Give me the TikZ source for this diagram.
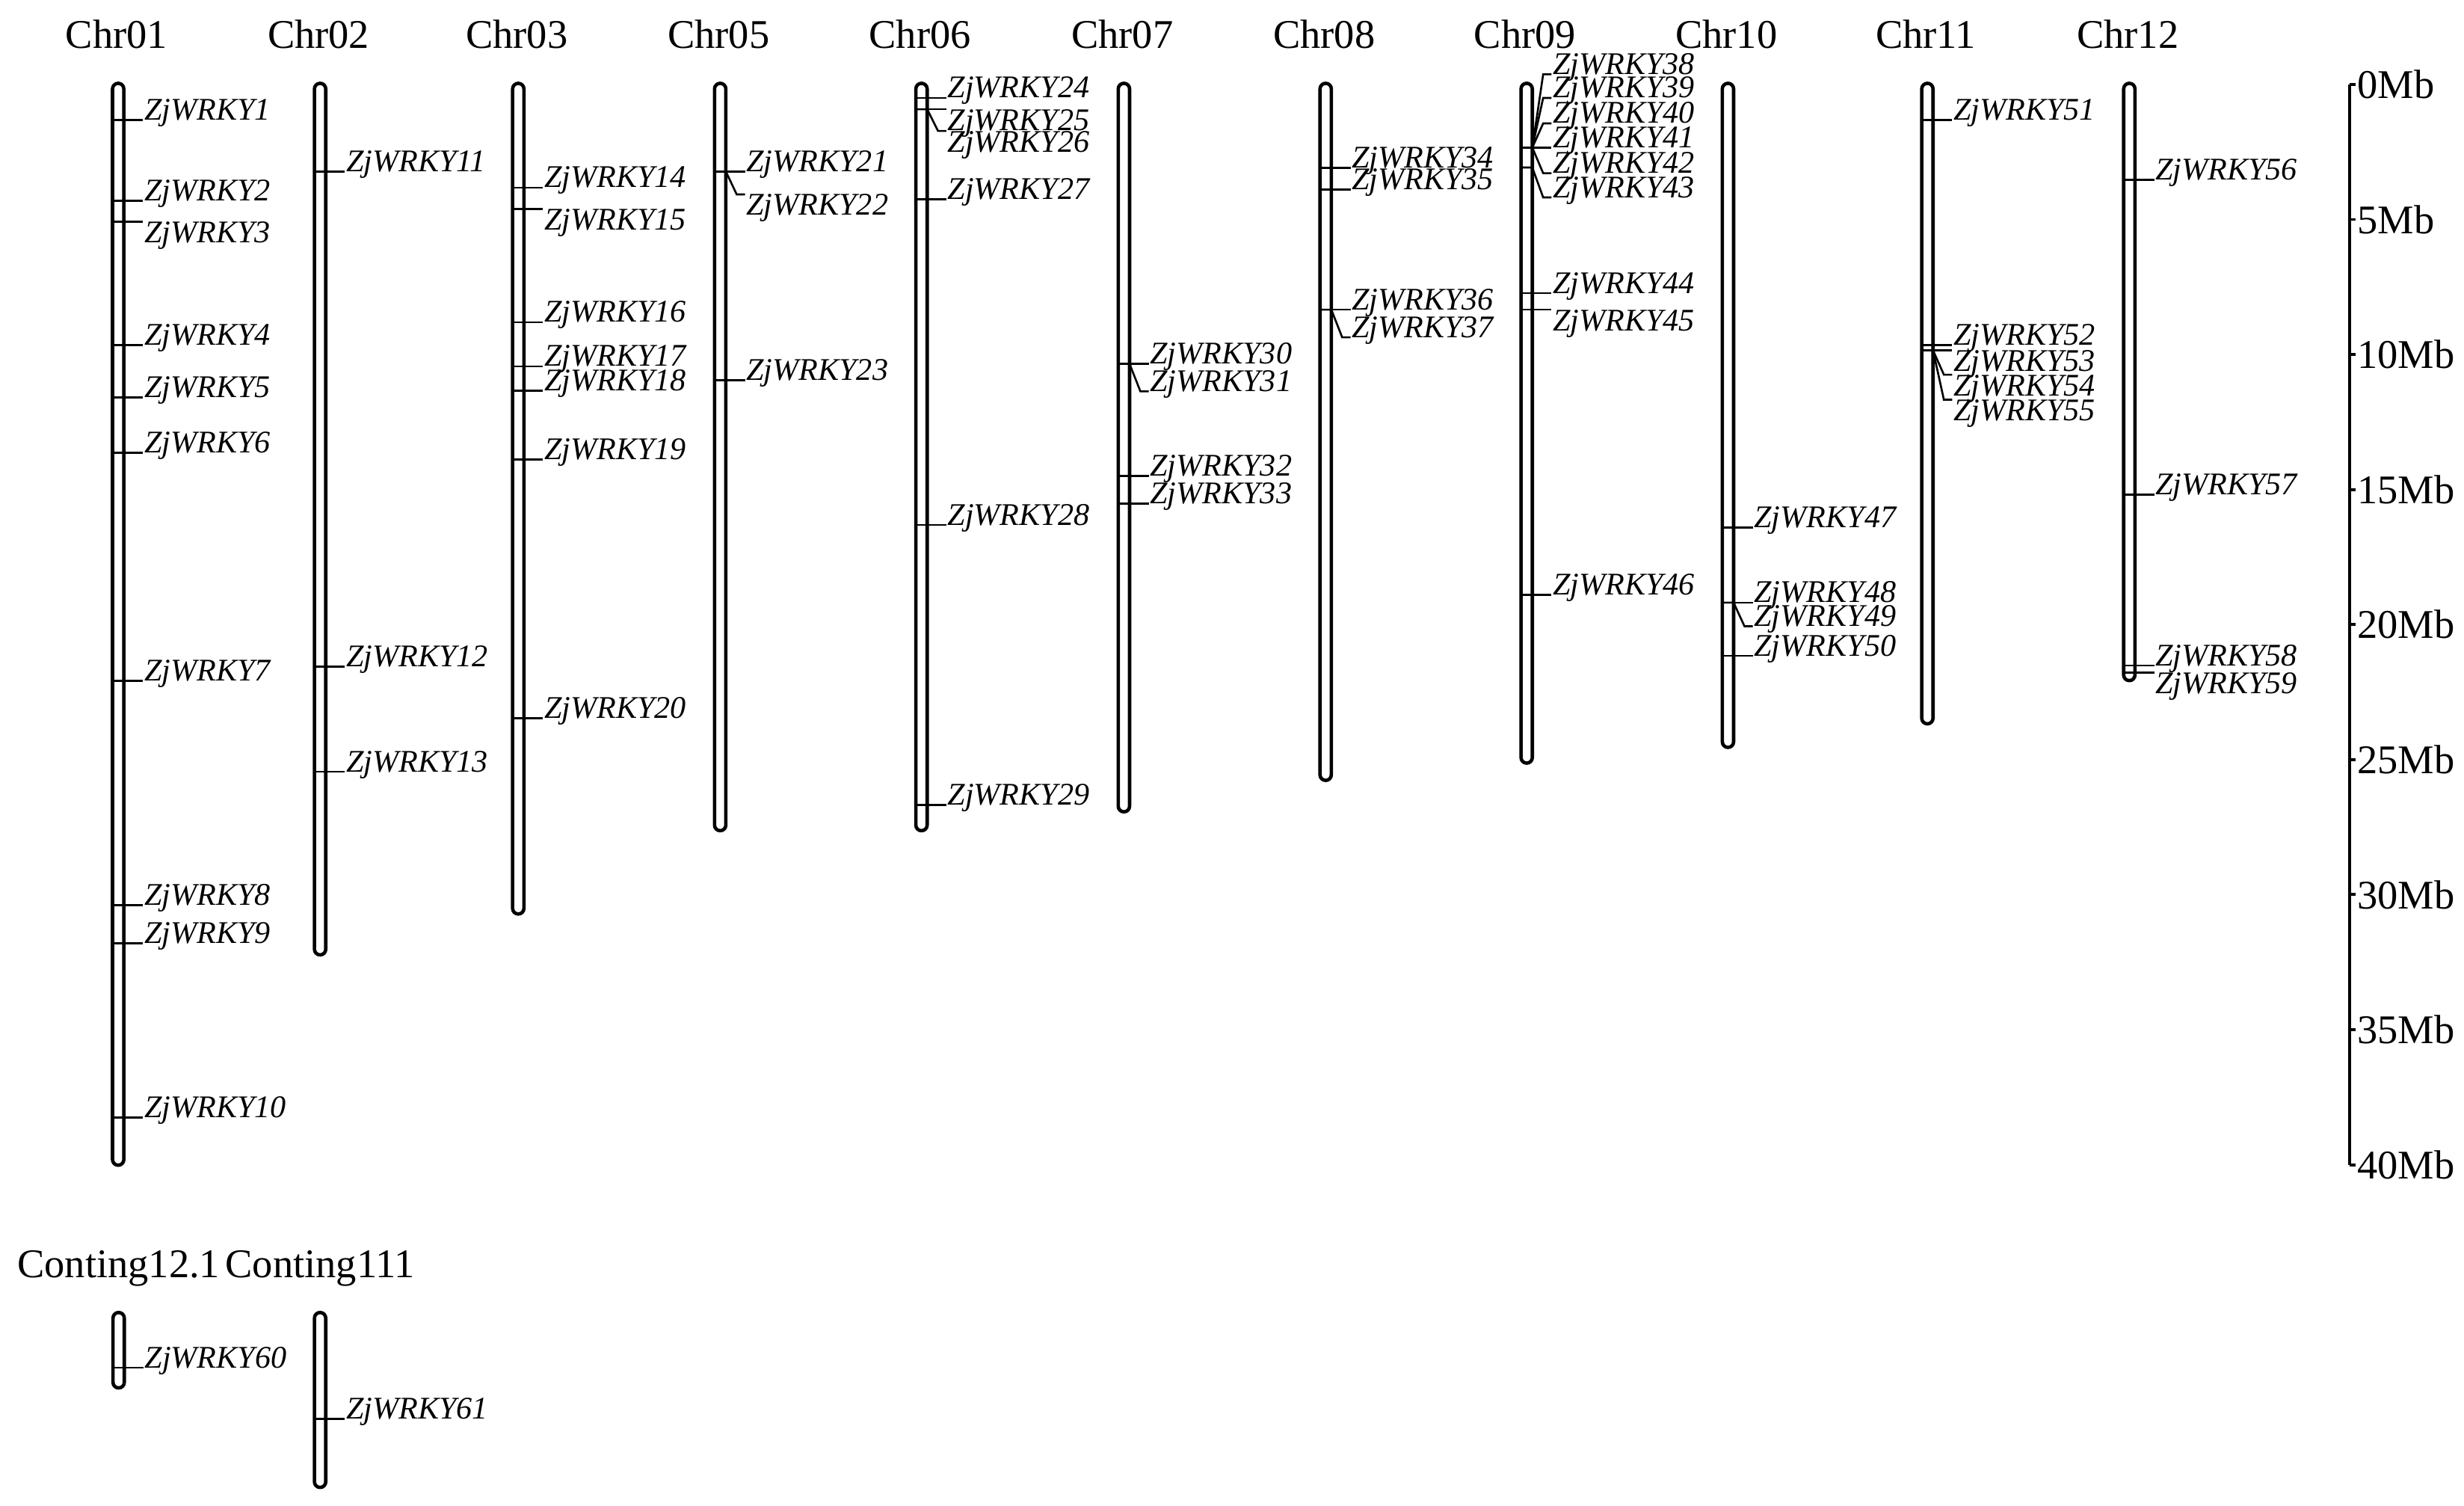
\documentclass[tikz,border=0pt]{standalone}
\usepackage{fontspec}
\setmainfont{Liberation Serif}
\tikzset{
  chrom/.style={line width=1.3pt, rounded corners=2.15pt},
  tk/.style={line width=0.75pt},
  axisline/.style={line width=1.1pt},
  glab/.style={font=\fontsize{12}{12}\selectfont\itshape, inner sep=0pt},
  big/.style={font=\fontsize{15.5}{15.5}\selectfont, inner sep=0pt},
}
% #1 id, #2 bar centre x, #3 tick y, #4 stub y, #5 baseline offset
\newcommand\gene[5]{%
  \coordinate (t#1) at (#2-3.6,#3);
  \coordinate (r#1) at (#2+3.6,#3);
  \coordinate (k#1) at (#2+10.5,#4);
  \coordinate (s#1) at (#2+15.8,#4);
  \node[glab,anchor=base west] (g#1) at (#2+16.3,#4+#5) {ZjWRKY#1};
  \draw[tk] (t#1) -- (r#1) -- (k#1) -- (s#1);
}
\newcommand\chrbar[4]{% #1 name, #2 x, #3 top, #4 bottom
  \draw[chrom] (#2-3.6,#3) rectangle (#2+3.6,#4);
}
\begin{document}
\begin{tikzpicture}[x=0.02102cm,y=-0.02102cm]
\useasboundingbox (0,0) rectangle (1568,958);
% chromosome labels
\node[big,anchor=base] (L01) at (74.2,30.9) {Chr01};
\node[big,anchor=base] (L02) at (202.7,30.9) {Chr02};
\node[big,anchor=base] (L03) at (328.8,30.9) {Chr03};
\node[big,anchor=base] (L05) at (457.3,30.9) {Chr05};
\node[big,anchor=base] (L06) at (585.4,30.9) {Chr06};
\node[big,anchor=base] (L07) at (714.2,30.9) {Chr07};
\node[big,anchor=base] (L08) at (842.6,30.9) {Chr08};
\node[big,anchor=base] (L09) at (970.5,30.9) {Chr09};
\node[big,anchor=base] (L10) at (1098.6,30.9) {Chr10};
\node[big,anchor=base] (L11) at (1225.5,30.9) {Chr11};
\node[big,anchor=base] (L12) at (1354,30.9) {Chr12};
\node[big,anchor=base] (LC1) at (75.5,812.7) {Conting12.1};
\node[big,anchor=base] (LC2) at (203.7,812.7) {Conting111};
% chromosome bars
\chrbar{01}{75.2}{53}{741.3}
\chrbar{02}{203.7}{53}{607.5}
\chrbar{03}{329.8}{53}{581.5}
\chrbar{05}{458.3}{53}{528.5}
\chrbar{06}{586.4}{53}{528.5}
\chrbar{07}{715.2}{53}{516.5}
\chrbar{08}{843.6}{53}{496.5}
\chrbar{09}{971.5}{53}{485.5}
\chrbar{10}{1099.6}{53}{475.5}
\chrbar{11}{1226.5}{53}{460.5}
\chrbar{12}{1355}{53}{433}
\chrbar{C1}{75.5}{835}{883}
\chrbar{C2}{203.7}{835}{946.3}
% genes
\gene{1}{75.2}{76.4}{76.4}{0}
\gene{2}{75.2}{127.7}{127.7}{0}
\gene{3}{75.2}{141.1}{141.1}{13.3}
\gene{4}{75.2}{219.6}{219.6}{0}
\gene{5}{75.2}{253}{253}{0}
\gene{6}{75.2}{288}{288}{0}
\gene{7}{75.2}{433}{433}{0}
\gene{8}{75.2}{576}{576}{0}
\gene{9}{75.2}{600}{600}{0}
\gene{10}{75.2}{711}{711}{0}
\gene{11}{203.7}{109.1}{109.1}{0}
\gene{12}{203.7}{424}{424}{0}
\gene{13}{203.7}{491}{491}{0}
\gene{14}{329.8}{119.4}{119.4}{0}
\gene{15}{329.8}{132.9}{132.9}{13.3}
\gene{16}{329.8}{205}{205}{0}
\gene{17}{329.8}{233.1}{233.1}{0}
\gene{18}{329.8}{248.6}{248.6}{0}
\gene{19}{329.8}{292.3}{292.3}{0}
\gene{20}{329.8}{457}{457}{0}
\gene{21}{458.3}{109.1}{109.1}{0}
\gene{22}{458.3}{109.1}{123.7}{13.3}
\gene{23}{458.3}{241.8}{241.8}{0}
\gene{24}{586.4}{62.3}{62.3}{0}
\gene{25}{586.4}{69.5}{69.5}{13.3}
\gene{26}{586.4}{69.5}{83.3}{13.3}
\gene{27}{586.4}{126.9}{126.9}{0}
\gene{28}{586.4}{334}{334}{0}
\gene{29}{586.4}{512}{512}{0}
\gene{30}{715.2}{231.5}{231.5}{0}
\gene{31}{715.2}{231.5}{249}{0}
\gene{32}{715.2}{302.9}{302.9}{0}
\gene{33}{715.2}{320.3}{320.3}{0}
\gene{34}{843.6}{106.7}{106.7}{0}
\gene{35}{843.6}{120.5}{120.5}{0}
\gene{36}{843.6}{197}{197}{0}
\gene{37}{843.6}{197}{214.6}{0}
\gene{38}{971.5}{93.9}{47.3}{0}
\gene{39}{971.5}{93.9}{62.3}{0}
\gene{40}{971.5}{93.9}{78.5}{0}
\gene{41}{971.5}{93.9}{93.9}{0}
\gene{42}{971.5}{93.9}{110.2}{0}
\gene{43}{971.5}{106.6}{125.6}{0}
\gene{44}{971.5}{186.5}{186.5}{0}
\gene{45}{971.5}{197}{197}{13.3}
\gene{46}{971.5}{378.4}{378.4}{0}
\gene{47}{1099.6}{335.5}{335.5}{0}
\gene{48}{1099.6}{383.4}{383.4}{0}
\gene{49}{1099.6}{383.4}{398.4}{0}
\gene{50}{1099.6}{417.3}{417.3}{0}
\gene{51}{1226.5}{76.4}{76.4}{0}
\gene{52}{1226.5}{219.5}{219.5}{0}
\gene{53}{1226.5}{222.9}{222.9}{13.3}
\gene{54}{1226.5}{222.9}{238.4}{13.3}
\gene{55}{1226.5}{222.9}{254.3}{13.3}
\gene{56}{1355}{114.4}{114.4}{0}
\gene{57}{1355}{314.7}{314.7}{0}
\gene{58}{1355}{423.4}{423.4}{0}
\gene{59}{1355}{427.9}{427.9}{13.3}
\gene{60}{75.5}{870.1}{870.1}{0}
\gene{61}{203.7}{902.6}{902.6}{0}
% scale axis
\coordinate (ax0) at (1495.3,53.7);
\coordinate (ax8) at (1495.3,741);
\draw[axisline] (ax0) -- (ax8);
\foreach \i in {0,...,8}{
  \coordinate (at\i) at (1495.3,53.7+\i*85.91);
  \node[big,anchor=west] (mb\i) at (1499.8,53.7+\i*85.91) {\the\numexpr\i*5\relax Mb};
  \draw[axisline] (at\i) -- ++(3.5,0);
}
\end{tikzpicture}
\end{document}
